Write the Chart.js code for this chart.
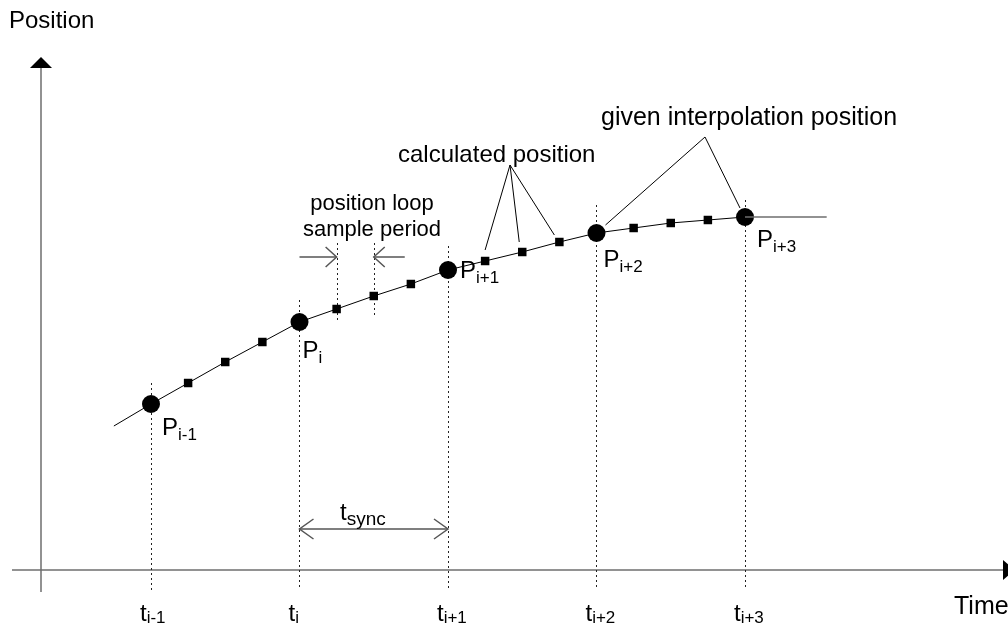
<!DOCTYPE html>
<html>
<head>
<meta charset="utf-8">
<script src="https://cdn.jsdelivr.net/npm/chart.js@4"></script>
<style>
  html, body { margin: 0; padding: 0; background: #fff; }
  #wrap { width: 1008px; height: 625px; position: relative; }
</style>
</head>
<body>
<div id="wrap"><canvas id="interpChart"></canvas></div>
<script>
// time in position-loop samples, t(i-1) = 0, one t_sync = 4 samples
const tickTimes = [0, 4, 8, 12, 16];
const tickSubs = ['i-1', 'i', 'i+1', 'i+2', 'i+3'];
const givenPos = [33.2, 49.6, 60.0, 67.4, 70.6];
const calcTimes = [1, 2, 3, 5, 6, 7, 9, 10, 11, 13, 14, 15];
const calcPos = [37.4, 41.6, 45.6, 52.2, 54.8, 57.2, 61.8, 63.6, 65.6, 68.4, 69.4, 70.0];
const curveStart = { x: -1, y: 28.8 };
const holdEnd = 18.2;

const FONT = '"Liberation Sans", Arial, sans-serif';

const givenPts = tickTimes.map((t, i) => ({ x: t, y: givenPos[i] }));
const calcPts = calcTimes.map((t, i) => ({ x: t, y: calcPos[i] }));
const curvePts = [curveStart].concat(givenPts, calcPts).sort((a, b) => a.x - b.x);
const holdPts = [givenPts[4], { x: holdEnd, y: givenPos[4] }];

function line(ctx, x1, y1, x2, y2) {
    ctx.beginPath();
    ctx.moveTo(x1, y1);
    ctx.lineTo(x2, y2);
    ctx.stroke();
}

function chevron(ctx, x, y, dir, len, half) {
    ctx.beginPath();
    ctx.moveTo(x - dir * len, y - half);
    ctx.lineTo(x, y);
    ctx.lineTo(x - dir * len, y + half);
    ctx.stroke();
}

function subText(ctx, base, sub, x, y, size, subSize, dy) {
    ctx.font = size + 'px ' + FONT;
    ctx.fillText(base, x, y);
    const w = ctx.measureText(base).width;
    ctx.font = subSize + 'px ' + FONT;
    ctx.fillText(sub, x + w, y + dy);
}

const diagram = {
    id: 'diagram',
    beforeDatasetsDraw(chart) {
        const ctx = chart.ctx;
        const xs = chart.scales.x, ys = chart.scales.y;
        const y0 = ys.getPixelForValue(0);
        const x0 = 41;
        ctx.save();

        // axes
        ctx.strokeStyle = '#6e6e6e';
        ctx.fillStyle = '#000';
        ctx.lineWidth = 1.5;
        line(ctx, x0, 66, x0, 592);
        line(ctx, 12, y0, 1004, y0);
        ctx.beginPath();
        ctx.moveTo(x0, 57); ctx.lineTo(x0 - 11, 68); ctx.lineTo(x0 + 11, 68); ctx.closePath();
        ctx.fill();
        ctx.beginPath();
        ctx.moveTo(1015, y0); ctx.lineTo(1003, y0 - 10); ctx.lineTo(1003, y0 + 10); ctx.closePath();
        ctx.fill();

        // dotted verticals at the interpolation instants
        ctx.strokeStyle = '#222';
        ctx.lineWidth = 1;
        ctx.setLineDash([2, 3]);
        const tops = [383, 300, 246, 205, 200];
        tickTimes.forEach((t, i) => {
            const px = Math.round(xs.getPixelForValue(t)) + 0.5;
            line(ctx, px, tops[i], px, 590);
        });
        // sample period markers
        [5, 6].forEach((t, k) => {
            const px = Math.round(xs.getPixelForValue(t)) + 0.5;
            const py = ys.getPixelForValue(calcPos[calcTimes.indexOf(t)]);
            line(ctx, px, 243, px, py + (k === 0 ? 14 : 20));
        });
        ctx.setLineDash([]);
        ctx.restore();
    },
    afterDatasetsDraw(chart) {
        const ctx = chart.ctx;
        const xs = chart.scales.x, ys = chart.scales.y;
        const px = t => xs.getPixelForValue(t);
        const py = v => ys.getPixelForValue(v);
        ctx.save();

        // sample period arrows
        const s1 = px(5), s2 = px(6);
        ctx.strokeStyle = '#555';
        ctx.lineWidth = 1.5;
        const ay = 257;
        line(ctx, px(4), ay, s1, ay);
        chevron(ctx, s1, ay, 1, 11, 10);
        line(ctx, s2, ay, s2 + 31, ay);
        chevron(ctx, s2, ay, -1, 11, 10);

        // t_sync arrow
        const sy = 529;
        line(ctx, px(4), sy, px(8), sy);
        chevron(ctx, px(4), sy, -1, 14, 10);
        chevron(ctx, px(8), sy, 1, 14, 10);

        // callout lines
        ctx.strokeStyle = '#000';
        ctx.lineWidth = 1;
        const ca = { x: 510, y: 165 };
        [[9, 0, -11], [10, -3, -10], [11, -5, -7]].forEach(([t, dx, dy]) => {
            const i = calcTimes.indexOf(t);
            line(ctx, ca.x, ca.y, px(t) + dx, py(calcPos[i]) + dy);
        });
        const ga = { x: 705, y: 137 };
        line(ctx, ga.x, ga.y, px(tickTimes[3]) + 9, py(givenPos[3]) - 8);
        line(ctx, ga.x, ga.y, px(tickTimes[4]) - 5, py(givenPos[4]) - 9);

        // texts
        ctx.fillStyle = '#000';
        ctx.textBaseline = 'alphabetic';
        ctx.font = '24px ' + FONT;
        ctx.fillText('Position', 9, 28);
        ctx.fillText('calculated position', 398, 162);
        ctx.font = '25px ' + FONT;
        ctx.fillText('given interpolation position', 601, 125);
        ctx.textAlign = 'center';
        ctx.font = '22px ' + FONT;
        ctx.fillText('position loop', 372, 210);
        ctx.fillText('sample period', 372, 236);
        ctx.textAlign = 'left';
        ctx.font = '25px ' + FONT;
        ctx.fillText('Time', 954, 614);

        const pOff = [[11, 31], [3, 36], [12, 8], [7, 34], [12, 30]];
        tickTimes.forEach((t, i) => {
            subText(ctx, 'P', tickSubs[i], px(t) + pOff[i][0], py(givenPos[i]) + pOff[i][1], 24, 17, 5);
            subText(ctx, 't', tickSubs[i], px(t) - 11, 621, 24, 17, 2);
        });
        subText(ctx, 't', 'sync', 340, 520, 24, 19, 5);
        ctx.restore();
    }
};

new Chart(document.getElementById('interpChart'), {
    type: 'scatter',
    data: {
        datasets: [
            {
                label: 'hold',
                data: holdPts,
                showLine: true,
                borderColor: '#6e6e6e',
                borderWidth: 1.5,
                pointRadius: 0
            },
            {
                label: 'curve',
                data: curvePts,
                showLine: true,
                borderColor: '#000',
                borderWidth: 1,
                pointRadius: 0
            },
            {
                label: 'calculated position',
                data: calcPts,
                pointStyle: 'rect',
                pointRadius: 6,
                backgroundColor: '#000',
                borderColor: '#000',
                borderWidth: 0
            },
            {
                label: 'given interpolation position',
                data: givenPts,
                pointStyle: 'circle',
                pointRadius: 9,
                backgroundColor: '#000',
                borderColor: '#000',
                borderWidth: 0
            }
        ]
    },
    options: {
        responsive: true,
        maintainAspectRatio: false,
        animation: false,
        layout: { padding: 0, autoPadding: false },
        plugins: {
            legend: { display: false },
            tooltip: { enabled: false }
        },
        scales: {
            x: { type: 'linear', display: false, min: -4.067, max: 23.084 },
            y: { type: 'linear', display: false, min: -11, max: 114 }
        }
    },
    plugins: [diagram]
});
</script>
</body>
</html>
